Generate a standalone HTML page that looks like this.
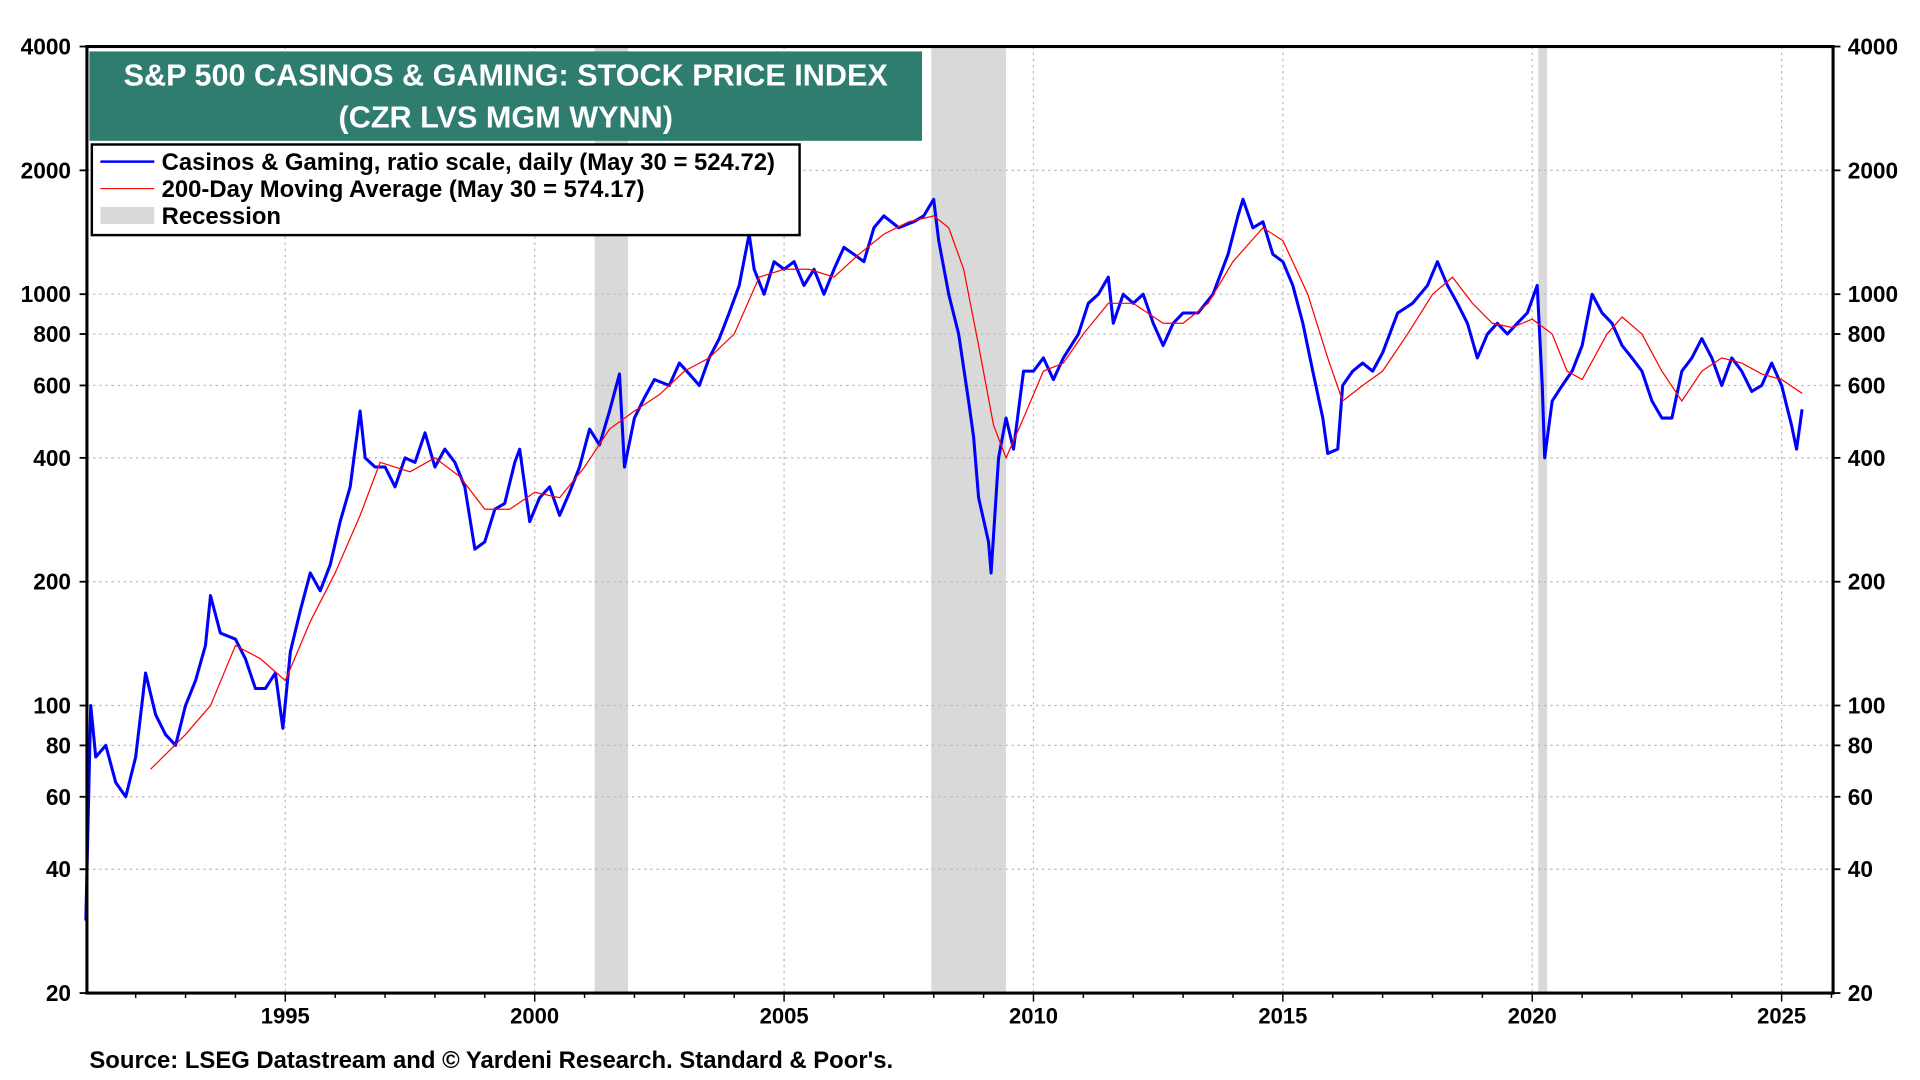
<!DOCTYPE html>
<html><head><meta charset="utf-8"><style>
html,body{margin:0;padding:0;background:#fff;}
svg{display:block;font-family:"Liberation Sans",Arial,sans-serif;font-weight:bold;}
</style></head><body>
<svg id="chart" width="1920" height="1080" viewBox="0 0 1568 882" xmlns="http://www.w3.org/2000/svg">
<g id="bg"></g><g id="grid"></g><g id="series"></g><g id="axes"></g>
<g>
<rect x="73" y="42" width="680" height="73" fill="#2e7d6f"/>
<text x="413" y="70" fill="#fff" font-size="25" text-anchor="middle">S&amp;P 500 CASINOS &amp; GAMING: STOCK PRICE INDEX</text>
<text x="413" y="104" fill="#fff" font-size="25" text-anchor="middle">(CZR LVS MGM WYNN)</text>
</g>
<g>
<rect x="75" y="118" width="578" height="74" fill="#fff" stroke="#000" stroke-width="2"/>
<g><line x1="82" y1="132" x2="126" y2="132" stroke="#0000ff" stroke-width="2"/><text x="132" y="139" font-size="19.5">Casinos &amp; Gaming, ratio scale, daily (May 30 = 524.72)</text></g>
<g><line x1="82" y1="154" x2="126" y2="154" stroke="#ff0000" stroke-width="1"/><text x="132" y="161" font-size="19.5">200-Day Moving Average (May 30 = 574.17)</text></g>
<g><rect x="82" y="169" width="44" height="14" fill="#d9d9d9"/><text x="132" y="183" font-size="19.5">Recession</text></g>
</g>
<text x="73" y="872" font-size="19.5">Source: LSEG Datastream and © Yardeni Research. Standard &amp; Poor's.</text>
<script>
const priceYears=[1991.0,1991.1,1991.2,1991.4,1991.6,1991.8,1992.0,1992.2,1992.4,1992.6,1992.8,1993.0,1993.2,1993.4,1993.5,1993.7,1994.0,1994.2,1994.4,1994.6,1994.8,1994.95,1995.1,1995.3,1995.5,1995.7,1995.9,1996.1,1996.3,1996.4,1996.5,1996.6,1996.8,1997.0,1997.2,1997.4,1997.6,1997.8,1998.0,1998.2,1998.4,1998.6,1998.8,1999.0,1999.2,1999.4,1999.6,1999.7,1999.9,2000.1,2000.3,2000.5,2000.7,2000.9,2001.1,2001.3,2001.5,2001.7,2001.8,2002.0,2002.2,2002.4,2002.7,2002.9,2003.1,2003.3,2003.5,2003.7,2003.9,2004.1,2004.3,2004.4,2004.6,2004.8,2005.0,2005.2,2005.4,2005.6,2005.8,2006.0,2006.2,2006.4,2006.6,2006.8,2007.0,2007.3,2007.6,2007.8,2008.0,2008.1,2008.3,2008.5,2008.7,2008.8,2008.9,2009.1,2009.15,2009.3,2009.45,2009.6,2009.8,2010.0,2010.2,2010.4,2010.6,2010.9,2011.1,2011.3,2011.5,2011.6,2011.8,2012.0,2012.2,2012.4,2012.6,2012.8,2013.0,2013.3,2013.6,2013.9,2014.1,2014.2,2014.4,2014.6,2014.8,2015.0,2015.2,2015.4,2015.6,2015.8,2015.9,2016.1,2016.2,2016.4,2016.6,2016.8,2017.0,2017.3,2017.6,2017.9,2018.1,2018.3,2018.5,2018.7,2018.9,2019.1,2019.3,2019.5,2019.7,2019.9,2020.1,2020.2,2020.25,2020.4,2020.6,2020.8,2021.0,2021.2,2021.4,2021.6,2021.8,2022.0,2022.2,2022.4,2022.6,2022.8,2023.0,2023.2,2023.4,2023.6,2023.8,2024.0,2024.2,2024.4,2024.6,2024.8,2025.0,2025.2,2025.3,2025.41];
const priceValues=[30,100,75,80,65,60,75,120,95,85,80,100,115,140,185,150,145,130,110,110,120,88,135,170,210,190,220,280,340,420,520,400,380,380,340,400,390,460,380,420,390,340,240,250,300,310,390,420,280,320,340,290,330,380,470,430,520,640,380,500,560,620,600,680,640,600,700,780,900,1050,1400,1150,1000,1200,1150,1200,1050,1150,1000,1150,1300,1250,1200,1450,1550,1450,1500,1550,1700,1350,1000,800,550,450,320,250,210,400,500,420,650,650,700,620,700,800,950,1000,1100,850,1000,950,1000,850,750,850,900,900,1000,1250,1550,1700,1450,1500,1250,1200,1050,850,650,500,410,420,600,650,680,650,720,900,950,1050,1200,1050,950,850,700,800,850,800,850,900,1050,600,400,550,600,650,750,1000,900,850,750,700,650,550,500,500,650,700,780,700,600,700,650,580,600,680,600,480,420,525];
const maYears=[1992.3,1993.0,1993.5,1994.0,1994.5,1995.0,1995.5,1996.0,1996.5,1996.9,1997.5,1998.0,1998.5,1999.0,1999.5,2000.0,2000.5,2001.0,2001.5,2002.0,2002.5,2003.0,2003.5,2004.0,2004.5,2005.0,2005.5,2006.0,2006.5,2007.0,2007.5,2008.0,2008.3,2008.6,2008.9,2009.2,2009.45,2009.8,2010.2,2010.6,2011.0,2011.5,2012.0,2012.6,2013.0,2013.5,2014.0,2014.6,2015.0,2015.5,2015.9,2016.2,2016.6,2017.0,2017.5,2018.0,2018.4,2018.8,2019.2,2019.6,2020.0,2020.4,2020.7,2021.0,2021.5,2021.8,2022.2,2022.6,2023.0,2023.4,2023.8,2024.2,2024.6,2025.0,2025.41];
const maValues=[70,85,100,140,130,115,160,210,290,390,370,400,360,300,300,330,320,380,470,520,570,650,700,800,1100,1150,1150,1100,1250,1400,1500,1550,1450,1150,750,480,400,500,650,680,800,950,950,850,850,950,1200,1450,1350,1000,700,550,600,650,800,1000,1100,950,850,830,870,800,650,620,800,880,800,650,550,650,700,680,640,620,574];
const yTicks=[20,40,60,80,100,200,400,600,800,1000,2000,4000];
const xTicks=[1995,2000,2005,2010,2015,2020,2025];
const recessions=[[2001.2,2001.87],[2007.95,2009.45],[2020.12,2020.3]];

const NS="http://www.w3.org/2000/svg";
const L=71,R=1497,T=38,B=811;
const xOf=yr=>233+(yr-1995)*(1222/30);
const yOf=v=>B-(B-T)*Math.log10(v/20)/Math.log10(200);
function mk(tag,attrs,parent){const e=document.createElementNS(NS,tag);for(const k in attrs)e.setAttribute(k,attrs[k]);document.getElementById(parent).appendChild(e);return e;}

recessions.forEach(r=>{
 const e=mk('rect',{x:xOf(r[0]),y:T,width:xOf(r[1])-xOf(r[0]),height:B-T,fill:'#d9d9d9'},'bg');
 
 
});
yTicks.forEach(v=>{
 if(v===20||v===4000)return;
 const e=mk('line',{x1:L,x2:R,y1:yOf(v),y2:yOf(v),stroke:'#bbb','stroke-dasharray':'2,3','stroke-width':1},'grid');
 
 
});
xTicks.forEach(yr=>{
 const e=mk('line',{x1:xOf(yr),x2:xOf(yr),y1:T,y2:B,stroke:'#bbb','stroke-dasharray':'2,3','stroke-width':1},'grid');
 
 
});
let d='';priceYears.forEach((yr,i)=>{d+=(i?'L':'M')+xOf(yr).toFixed(1)+','+yOf(priceValues[i]).toFixed(1);});
const p=mk('path',{d:d,fill:'none',stroke:'#0000ff','stroke-width':2.5,'stroke-linejoin':'round'},'series');


let d2='';maYears.forEach((yr,i)=>{d2+=(i?'L':'M')+xOf(yr).toFixed(1)+','+yOf(maValues[i]).toFixed(1);});
const m=mk('path',{d:d2,fill:'none',stroke:'#ff0000','stroke-width':1},'series');



const fr=mk('rect',{x:L,y:T,width:R-L,height:B-T,fill:'none',stroke:'#000','stroke-width':2.5},'axes');


yTicks.forEach(v=>{
 const y=yOf(v);
 mk('line',{x1:L-6,x2:L,y1:y,y2:y,stroke:'#000','stroke-width':1.5},'axes');
 mk('line',{x1:R,x2:R+6,y1:y,y2:y,stroke:'#000','stroke-width':1.5},'axes');
 const t1=mk('text',{x:L-13,y:y+6.5,'text-anchor':'end','font-size':18.5},'axes');t1.textContent=v;
 
 
 const t2=mk('text',{x:R+12,y:y+6.5,'text-anchor':'start','font-size':18.5},'axes');t2.textContent=v;
 
 
});
for(let yr=1992;yr<=2026;yr++){mk('line',{x1:xOf(yr),x2:xOf(yr),y1:B,y2:B+(yr%5?4:7),stroke:'#000','stroke-width':1.2},'axes');}
xTicks.forEach(yr=>{
 const t=mk('text',{x:xOf(yr),y:B+25,'text-anchor':'middle','font-size':18},'axes');t.textContent=yr;
 
 
});
</script>
</svg>
</body></html>
